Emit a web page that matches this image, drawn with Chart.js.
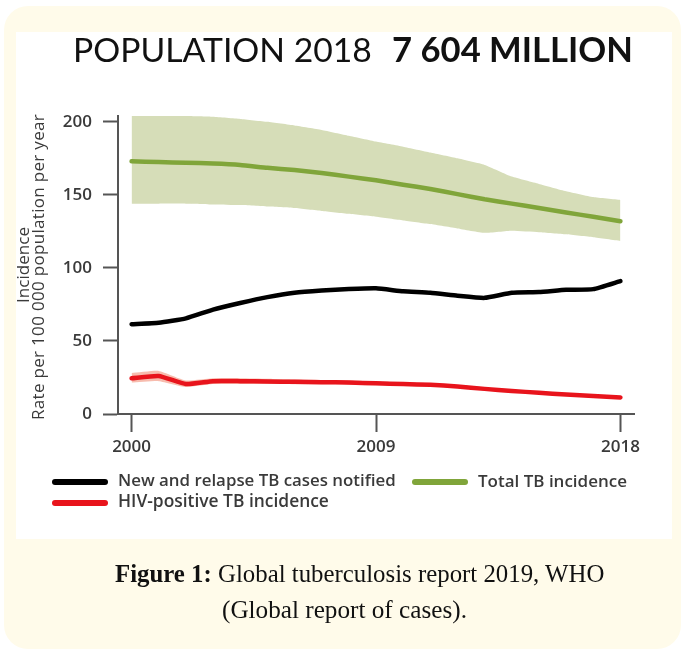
<!DOCTYPE html>
<html><head><meta charset="utf-8">
<script src="https://cdn.jsdelivr.net/npm/chart.js@4.4.1/dist/chart.umd.min.js"></script>
<style>
html,body{margin:0;padding:0;width:682px;height:650px;background:#fff;overflow:hidden;}
#outer{position:absolute;left:4px;top:6px;width:677px;height:643px;background:#fffbea;border-radius:24px;}
#panel{position:absolute;left:16px;top:32px;width:656px;height:507px;background:#fff;}
#wrap{position:absolute;left:0;top:0;width:682px;height:650px;}
.t{position:absolute;white-space:nowrap;margin:0;color:#1a1a1a;}
.title1{font-family:Lato;font-weight:400;color:#111;}
.title2{font-family:Lato;font-weight:700;color:#111;}
.leg{font-family:"Open Sans";font-weight:600;color:#3a3a3a;}
.ytl{font-family:"Open Sans";font-weight:500;color:#3a3a3a;transform-origin:0 0;transform:rotate(-90deg);}
.cap{font-family:"Liberation Serif";color:#111;}
.cap b{font-weight:700;}
.sw{position:absolute;height:6px;border-radius:3px;}
</style></head><body>
<div id="outer"></div><div id="panel"></div>
<div id="wrap"><canvas id="c" width="682" height="650"></canvas></div>
<div class="t title1" id="title1"><span>POPULATION 2018</span></div>
<div class="t title2" id="title2"><span>7 604 MILLION</span></div>
<div class="t ytl" id="yt1"><span></span></div>
<div class="t ytl" id="yt2"><span></span></div>
<div id="legend"></div>
<div class="t cap" id="cap1"><b>Figure 1:</b><span> Global tuberculosis report 2019, WHO</span></div>
<div class="t cap" id="cap2"><span>(Global report of cases).</span></div>
<script>
// ---- data ----
const years = [2000,2001,2002,2003,2004,2005,2006,2007,2008,2009,2010,2011,2012,2013,2014,2015,2016,2017,2018];
const notified = [61.5,62.5,65.5,71.5,76,80,83,84.5,85.5,86,84,83,81,79.5,83,83.5,85,85.5,91];
const totalInc = [173,172.5,172,171.5,170.5,168.5,167,165,162.5,160,157,154,150.5,147,144,141,138,135,132];
const totalHigh = [204,204,204,203.5,202,200,197.5,194.5,190.5,186.5,183,179,175,170.5,162.5,157.5,152.5,148.5,146.5];
const totalLow = [144,144,144,143.5,143,142,141,139,137,135,132.5,130,127,124,125.5,124.5,123,121,118.5];
const hivInc = [24.5,26,20.5,22.5,22.5,22.3,22,21.8,21.5,21,20.5,20,18.8,17.2,15.8,14.5,13.3,12.3,11.3];
const hivHigh = [28,29.5,23,24.5,24.5,24.1,23.6,23.3,22.9,22.3,21.7,21.1,19.8,18.2,16.7,15.4,14.1,13.1,12];
const hivLow = [21.5,22.5,18.5,20.5,20.5,20.5,20.4,20.3,20.1,19.7,19.3,18.9,17.8,16.2,14.9,13.6,12.5,11.5,10.6];
const xTickYears = [2000,2009,2018];
const yTickValues = [0,50,100,150,200];
const seriesLabels = ['New and relapse TB cases notified','HIV-positive TB incidence','Total TB incidence'];
const yTitle = ['Incidence','Rate per 100 000 population per year'];

const tickFont = {family:'"Open Sans"', size:17, weight:'600'};
const ds = [
  {label:seriesLabels[0], data:notified, borderColor:'#000000', borderWidth:4.5, pointRadius:0, fill:false, tension:0.15, borderCapStyle:'round', borderJoinStyle:'round'},
  {label:seriesLabels[1], data:hivInc, borderColor:'#e8141c', borderWidth:4.5, pointRadius:0, fill:false, tension:0.15, borderCapStyle:'round', borderJoinStyle:'round'},
  {label:seriesLabels[2], data:totalInc, borderColor:'#80a53a', borderWidth:4.5, pointRadius:0, fill:false, tension:0.15, borderCapStyle:'round', borderJoinStyle:'round'},
  {label:'hivHigh', data:hivHigh, borderWidth:0, pointRadius:0, backgroundColor:'rgba(244,160,140,0.7)', fill:'+1', tension:0.15},
  {label:'hivLow', data:hivLow, borderWidth:0, pointRadius:0, fill:false, tension:0.15},
  {label:'totalHigh', data:totalHigh, borderWidth:0, pointRadius:0, backgroundColor:'#d6ddb8', fill:'+1', tension:0.15},
  {label:'totalLow', data:totalLow, borderWidth:0, pointRadius:0, fill:false, tension:0.15}
];

const chart = new Chart(document.getElementById('c'), {
  type:'line',
  data:{labels:years, datasets:ds},
  options:{
    responsive:false, animation:false, devicePixelRatio:1,
    layout:{padding:{left:0, top:116, right:48, bottom:186}},
    plugins:{legend:{display:false}, tooltip:{enabled:false}},
    scales:{
      x:{type:'linear', min:1999.5, max:2018.5, position:'bottom',
        afterBuildTicks:s=>{s.ticks = xTickYears.map(v=>({value:v}));},
        afterFit:s=>{s.height = 50;},
        grid:{drawOnChartArea:false, drawTicks:true, tickLength:18, tickColor:'#555', tickWidth:2},
        border:{display:true, color:'#555', width:2},
        ticks:{callback:v=>String(v), color:'#3a3a3a', font:tickFont, padding:5, autoSkip:false, maxRotation:0}
      },
      y:{type:'linear', min:0, max:204, position:'left',
        afterBuildTicks:s=>{s.ticks = yTickValues.map(v=>({value:v}));},
        afterFit:s=>{s.width = 118;},
        grid:{drawOnChartArea:false, drawTicks:true, tickLength:15, tickColor:'#555', tickWidth:2},
        border:{display:true, color:'#555', width:2},
        ticks:{color:'#3a3a3a', font:tickFont, padding:11}
      }
    }
  }
});

// ---- text placement (fit to width, set baseline) ----
const mctx = document.createElement('canvas').getContext('2d');
function metrics(el, size){
  const parts = [...el.children];
  let total = 0, A = 0, D = 0;
  parts.forEach(p=>{
    const s = getComputedStyle(p);
    mctx.font = `${s.fontStyle} ${s.fontWeight} ${size}px ${s.fontFamily}`;
    const m = mctx.measureText(p.textContent);
    total += m.width; A = Math.max(A, m.fontBoundingBoxAscent); D = Math.max(D, m.fontBoundingBoxDescent);
  });
  return {w:total, a:A, d:D};
}
function placeText(el, left, baseline, width){
  const m0 = metrics(el, 100);
  const size = 100 * width / m0.w;
  el.style.fontSize = size + 'px';
  el.style.lineHeight = size + 'px';
  const m = metrics(el, size);
  el.style.left = left + 'px';
  el.style.top = (baseline - ((size - (m.a + m.d))/2 + m.a)) + 'px';
}
// rotated axis title: fixed size, letter-spacing to fit length
function placeRot(el, text, baselineX, centerY, size, length){
  el.firstElementChild.textContent = text;
  el.style.fontSize = size + 'px';
  el.style.lineHeight = size + 'px';
  const m = metrics(el, size);
  const ls = (length - m.w) / text.length;
  el.style.letterSpacing = ls + 'px';
  const b = (size - (m.a + m.d))/2 + m.a;
  el.style.left = (baselineX - b) + 'px';
  el.style.top = (centerY + length/2) + 'px';
}
placeText(document.getElementById('title1'), 73, 63, 299);
placeText(document.getElementById('title2'), 392, 63, 241);
placeText(document.getElementById('cap1'), 115, 583, 490);
placeText(document.getElementById('cap2'), 222, 618, 245);
placeRot(document.getElementById('yt1'), yTitle[0], 29, 265, 17, 76);
placeRot(document.getElementById('yt2'), yTitle[1], 43.5, 267, 17, 306);

// legend built from datasets
const legendLayout = [
  {ds:0, lx:52, ly:482, tx:118, base:487, w:278},
  {ds:2, lx:412, ly:482, tx:478, base:487, w:149},
  {ds:1, lx:52, ly:503, tx:118, base:508, w:211}
];
const legend = document.getElementById('legend');
legendLayout.forEach(it=>{
  const d = chart.data.datasets[it.ds];
  const sw = document.createElement('div');
  sw.className = 'sw';
  sw.style.left = it.lx + 'px'; sw.style.top = (it.ly - 3) + 'px'; sw.style.width = '56px';
  sw.style.background = d.borderColor;
  legend.appendChild(sw);
  const t = document.createElement('div');
  t.className = 't leg';
  const sp = document.createElement('span'); sp.textContent = d.label; t.appendChild(sp);
  legend.appendChild(t);
  placeText(t, it.tx, it.base, it.w);
});
</script>
</body></html>
